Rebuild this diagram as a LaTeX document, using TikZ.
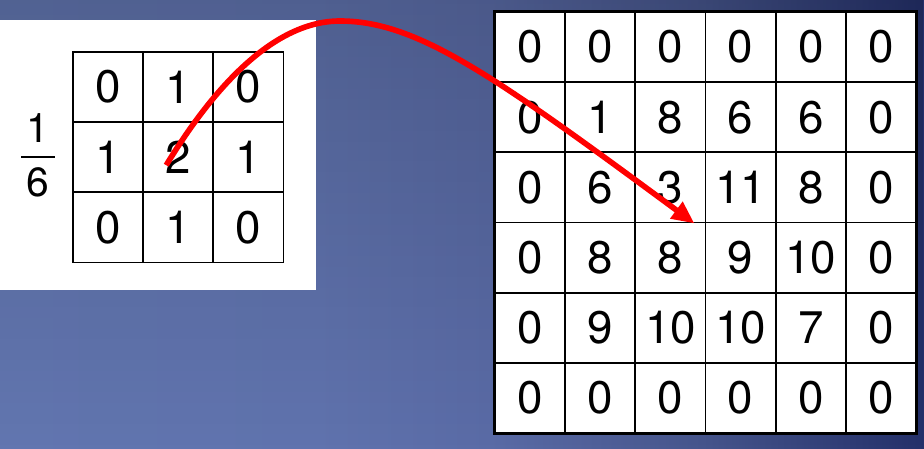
\documentclass[tikz,border=0pt]{standalone}
\usepackage{fontspec}
\setmainfont{TeX Gyre Heros}
\usetikzlibrary{arrows.meta, bending, calc, fadings}

\definecolor{bga}{HTML}{6276B0}
\definecolor{bgb}{HTML}{6073AE}
\definecolor{bgc}{HTML}{5A6BA6}
\definecolor{bgd}{HTML}{46558C}
\definecolor{bge}{HTML}{24306A}
\definecolor{arrowred}{HTML}{FF0000}
\pgfdeclarehorizontalshading{backdrop}{100bp}{color(0bp)=(bga); color(25bp)=(bga);
  color(42bp)=(bgb); color(51.5bp)=(bgc); color(63bp)=(bgd); color(75bp)=(bge);
  color(100bp)=(bge)}

\tikzset{
  cell/.style={draw, line width=1.3pt, fill=white, minimum size=1.755cm, inner sep=0pt,
    font=\fontsize{32.5}{38}\selectfont},
  frac/.style={inner sep=0pt, font=\fontsize{29}{34}\selectfont},
  move/.style={arrowred, line width=4pt, -{Triangle[length=16pt, width=14pt]}}
}

\begin{document}
\begin{tikzpicture}[x=0.025cm, y=-0.025cm]
  \useasboundingbox (0,0) rectangle (924,448);
  % background
  \shade[shading=backdrop] (0,0) rectangle (924,448);
  \fill[black, fill opacity=0.17, path fading=south] (0,0) rectangle (924,448);
  \fill[white] (0,20) rectangle (316,290);
  % kernel
  \node[frac] (one) at (38,128.5) {1};
  \node[frac] (six) at (38,182.5) {6};
  \draw[line width=1.1pt] (21,157) -- (55,157);
  \foreach \row/\vals in {1/{0,1,0}, 2/{1,2,1}, 3/{0,1,0}}
    \foreach \v [count=\col] in \vals
      \node[cell] (k-\row-\col) at ({108+70.2*(\col-1)}, {87+70.2*(\row-1)}) {\v};
  % image
  \foreach \row/\vals in {1/{0,0,0,0,0,0}, 2/{0,1,8,6,6,0}, 3/{0,6,3,11,8,0},
      4/{0,8,8,9,10,0}, 5/{0,9,10,10,7,0}, 6/{0,0,0,0,0,0}}
    \foreach \v [count=\col] in \vals
      \node[cell] (g-\row-\col) at ({530+70.2*(\col-1)}, {47+70.2*(\row-1)}) {\v};
  \draw[line width=1.8pt] (g-1-1.north west) rectangle (g-6-6.south east);
  % sliding the kernel
  \coordinate (src) at ($(k-2-2.center)+(-12,8)$);
  \coordinate (dst) at ($(g-3-3.south east)+(-12,0)$);
  \draw[move] (src) .. controls (215,85) and (275,21) .. (340,21)
    .. controls (420,21) and (500,80) .. (dst);
\end{tikzpicture}
\end{document}
